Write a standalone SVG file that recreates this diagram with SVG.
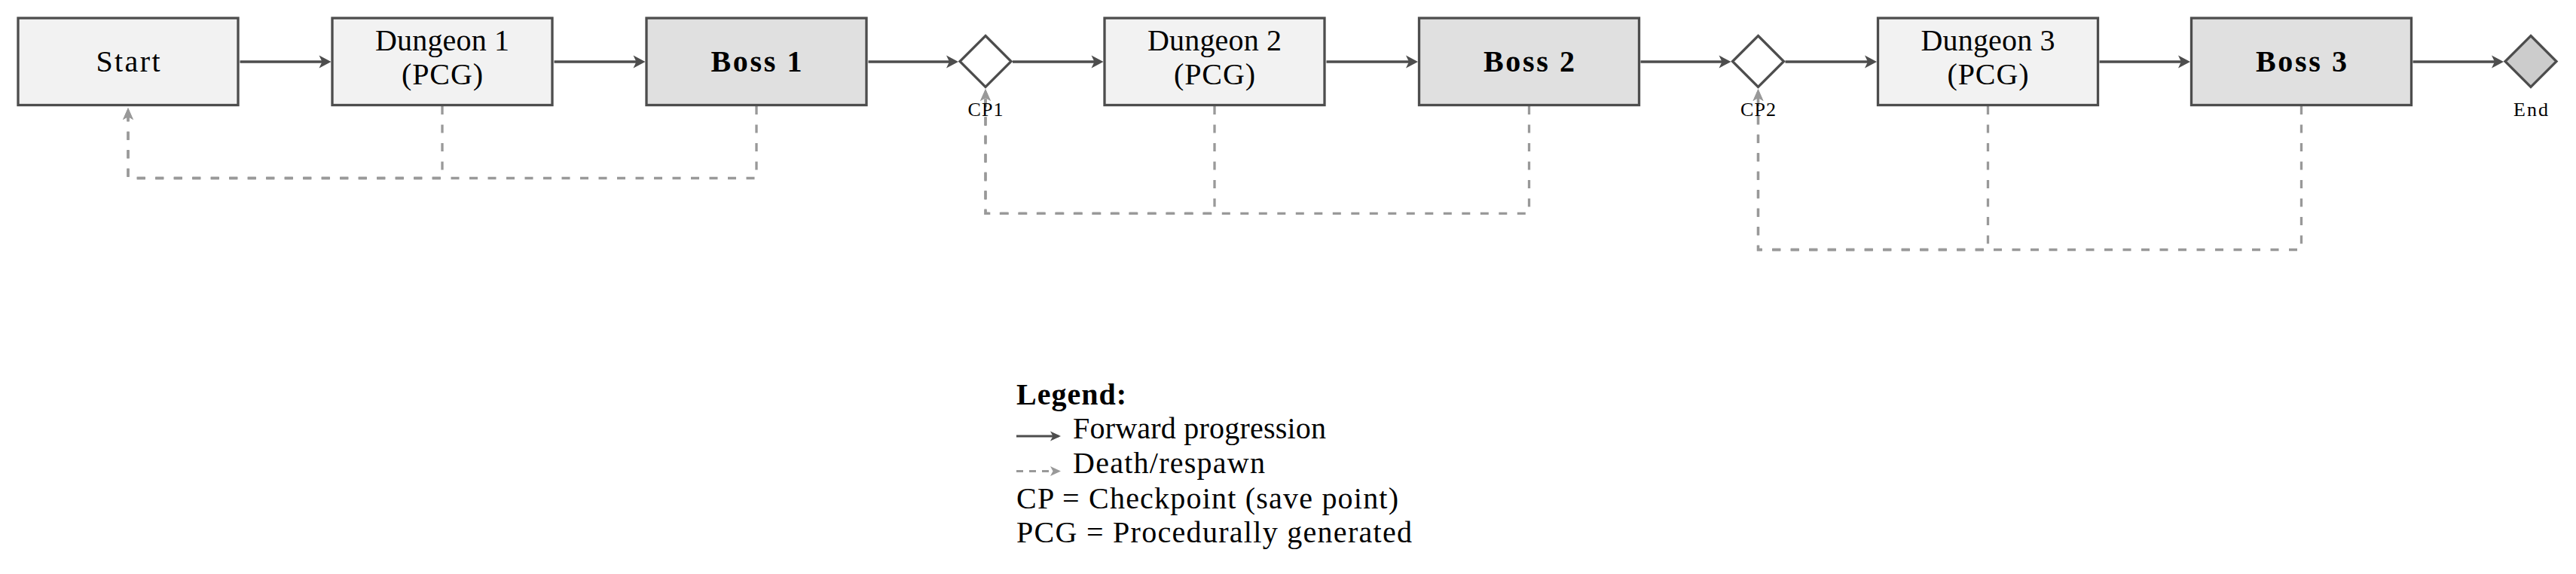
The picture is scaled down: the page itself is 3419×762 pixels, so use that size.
<svg xmlns="http://www.w3.org/2000/svg" width="3419" height="762" viewBox="0 0 3419 762">
<style>
.box{stroke:#4d4d4d;stroke-width:3.3}
.light{fill:#f2f2f2}
.boss{fill:#e0e0e0}
.cp{fill:#ffffff;stroke:#4d4d4d;stroke-width:3.3}
.end{fill:#cccccc;stroke:#4d4d4d;stroke-width:3.3}
.t{font-family:"Liberation Serif","Times New Roman",serif;font-size:40px;fill:#000;text-anchor:middle}
.b{font-weight:bold}
.s{font-family:"Liberation Serif","Times New Roman",serif;font-size:26px;fill:#000;text-anchor:middle}
.lg{font-family:"Liberation Serif","Times New Roman",serif;font-size:40px;fill:#000}
.fw{fill:none;stroke:#4d4d4d;stroke-width:3.3;marker-end:url(#ah)}
.dd{fill:none;stroke:#999999;stroke-width:3.3;stroke-dasharray:11 13.5;marker-end:url(#ahd)}
</style>
<defs>
<marker id="ah" viewBox="-20 -10 30 20" refX="0" refY="0" markerWidth="30" markerHeight="20" markerUnits="userSpaceOnUse" orient="auto"><path d="M-12,-8.5 L4,0 L-12,8.5 L-8,0 Z" fill="#4d4d4d"/></marker>
<marker id="ahd" viewBox="-20 -10 30 20" refX="0" refY="0" markerWidth="30" markerHeight="20" markerUnits="userSpaceOnUse" orient="auto"><path d="M-12,-7 L4,0 L-12,7 L-8,0 Z" fill="#999999"/></marker>
<marker id="ahs" viewBox="-20 -10 30 20" refX="0" refY="0" markerWidth="30" markerHeight="20" markerUnits="userSpaceOnUse" orient="auto"><path d="M-11,-6.5 L3,0 L-11,6.5 L-7.5,0 Z" fill="#4d4d4d"/></marker>
<marker id="ahsd" viewBox="-20 -10 30 20" refX="0" refY="0" markerWidth="30" markerHeight="20" markerUnits="userSpaceOnUse" orient="auto"><path d="M-11,-6.5 L3,0 L-11,6.5 L-7.5,0 Z" fill="#999999"/></marker>
</defs>
<g id="connectors">
<path class="dd" d="M587,141 V236.5 H170 V147"/>
<path class="dd" d="M1004,141 V236.5 H170 V147"/>
<path class="dd" d="M1612,141 V283.3 H1308 V122"/>
<path class="dd" d="M2029.5,141 V283.3 H1308 V122"/>
<path class="dd" d="M2638.5,141 V331.5 H2333.5 V122"/>
<path class="dd" d="M3054.5,141 V331.5 H2333.5 V122"/>
<path class="fw" d="M318.5,82 H435.5"/>
<path class="fw" d="M735.5,82 H852.5"/>
<path class="fw" d="M1152.5,82 H1268"/>
<path class="fw" d="M1344,82 H1460.5"/>
<path class="fw" d="M1760.5,82 H1878"/>
<path class="fw" d="M2177.5,82 H2293.5"/>
<path class="fw" d="M2369.5,82 H2487"/>
<path class="fw" d="M2786.5,82 H2903"/>
<path class="fw" d="M3202.5,82 H3319"/>
</g>
<g id="start"><rect class="box light" x="24" y="24" width="292" height="115.5"/><text class="t" x="170" y="95" textLength="85">Start</text></g>
<g id="dungeon1"><rect class="box light" x="441" y="24" width="292" height="115.5"/><text class="t" x="587" y="66.7" textLength="178">Dungeon 1</text><text class="t" x="587" y="111.7" textLength="108">(PCG)</text></g>
<g id="boss1"><rect class="box boss" x="858" y="24" width="292" height="115.5"/><text class="t b" x="1004" y="95" textLength="121">Boss 1</text></g>
<g id="cp1"><polygon class="cp" points="1308,47.5 1342,81.5 1308,115.5 1274,81.5"/><text class="s" x="1308" y="154" textLength="47">CP1</text></g>
<g id="dungeon2"><rect class="box light" x="1466" y="24" width="292" height="115.5"/><text class="t" x="1612" y="66.7" textLength="178">Dungeon 2</text><text class="t" x="1612" y="111.7" textLength="108">(PCG)</text></g>
<g id="boss2"><rect class="box boss" x="1883.5" y="24" width="292" height="115.5"/><text class="t b" x="2029.5" y="95" textLength="121">Boss 2</text></g>
<g id="cp2"><polygon class="cp" points="2333.5,47.5 2367.5,81.5 2333.5,115.5 2299.5,81.5"/><text class="s" x="2333.5" y="154" textLength="47">CP2</text></g>
<g id="dungeon3"><rect class="box light" x="2492.5" y="24" width="292" height="115.5"/><text class="t" x="2638.5" y="66.7" textLength="178">Dungeon 3</text><text class="t" x="2638.5" y="111.7" textLength="108">(PCG)</text></g>
<g id="boss3"><rect class="box boss" x="2908.5" y="24" width="292" height="115.5"/><text class="t b" x="3054.5" y="95" textLength="121">Boss 3</text></g>
<g id="end"><polygon class="end" points="3359,47.5 3393,81.5 3359,115.5 3325,81.5"/><text class="s" x="3359" y="154" textLength="46">End</text></g>
<g id="legend">
<text class="lg b" x="1349" y="537" textLength="146">Legend:</text>
<path d="M1349,579 H1405" fill="none" stroke="#4d4d4d" stroke-width="2.8" marker-end="url(#ahs)"/>
<text class="lg" x="1424" y="582" textLength="336">Forward progression</text>
<path d="M1349,625.5 H1405" fill="none" stroke="#999999" stroke-width="2.8" stroke-dasharray="9 8" marker-end="url(#ahsd)"/>
<text class="lg" x="1424" y="628" textLength="255">Death/respawn</text>
<text class="lg" x="1349" y="675" textLength="507">CP = Checkpoint (save point)</text>
<text class="lg" x="1349" y="720" textLength="525">PCG = Procedurally generated</text>
</g>
</svg>
